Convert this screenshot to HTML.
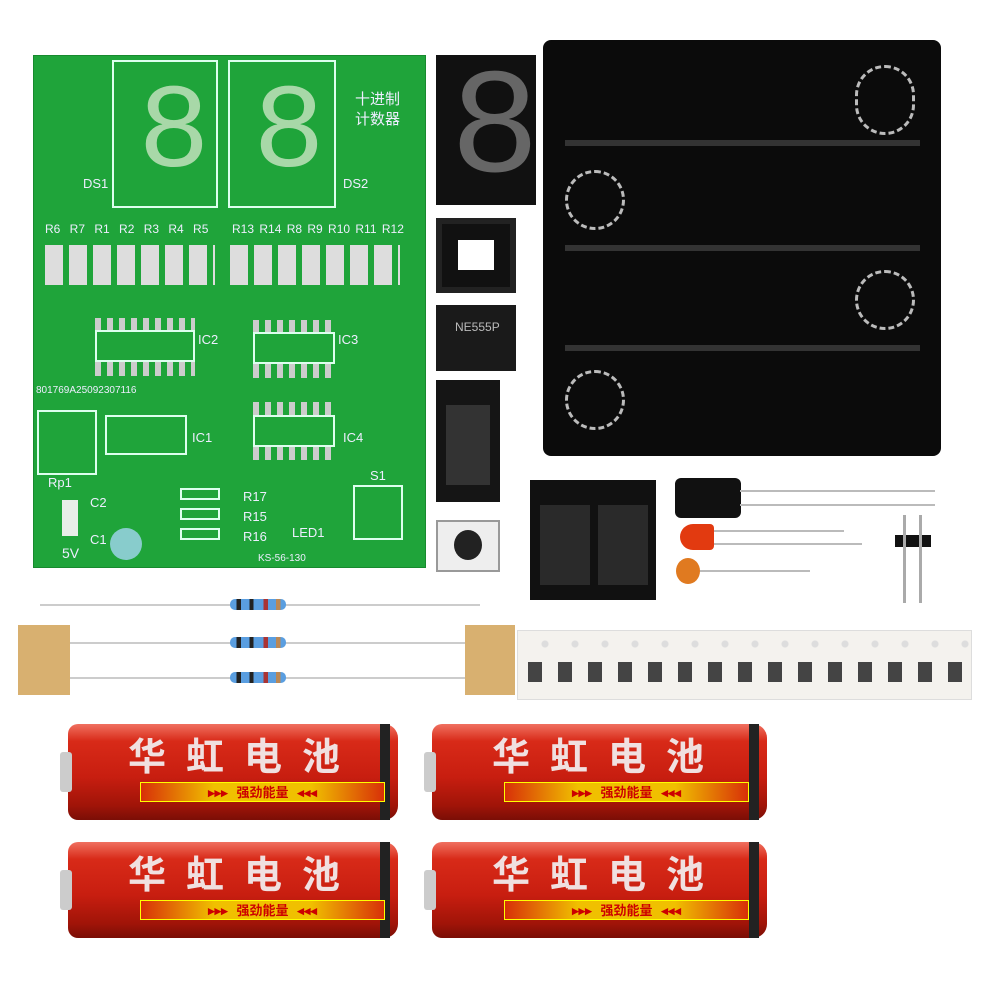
<!DOCTYPE html>
<html><head><meta charset="utf-8"><style>
body{margin:0;width:1000px;height:1000px;background:#fff;position:relative;overflow:hidden;font-family:"Liberation Sans","Noto Sans CJK SC",sans-serif}
div{position:absolute;box-sizing:border-box}
.w{color:#eef;font-size:13px}
.bat{height:96px;border-radius:10px 14px 14px 10px;background:linear-gradient(#f07060 0%,#d82a18 18%,#c81e10 55%,#a01408 85%,#7a0e06 100%)}
.bat .t{left:60px;top:8px;font-size:38px;line-height:44px;font-weight:bold;color:#f0e0e0;letter-spacing:20px;font-family:"Noto Sans CJK SC",sans-serif;white-space:nowrap}
.bat .s{left:72px;top:58px;width:245px;height:20px;background:linear-gradient(90deg,#d83008,#f0c000 30%,#f0c000 70%,#d83008);border:1px solid #ff0;color:#c00;font-size:13px;line-height:18px;font-weight:bold;text-align:center;font-family:"Noto Sans CJK SC",sans-serif}
.bat .cap{left:-8px;top:28px;width:12px;height:40px;background:#ccc;border-radius:3px}
.bat .end{right:8px;top:0;width:10px;height:96px;background:#222}
.res{width:56px;height:11px;border-radius:5px;background:linear-gradient(90deg,#5a9ee0 0,#5a9ee0 12%,#222 12%,#222 20%,#5a9ee0 20%,#5a9ee0 35%,#222 35%,#222 42%,#5a9ee0 42%,#5a9ee0 60%,#a33 60%,#a33 68%,#5a9ee0 68%,#5a9ee0 82%,#b85 82%,#b85 90%,#5a9ee0 90%)}
</style></head><body>

<!-- PCB -->
<div style="left:33px;top:55px;width:393px;height:513px;background:#1fa43a;border:1px solid #178a2e"></div>
<div style="left:112px;top:60px;width:106px;height:148px;border:2px solid #dfe"></div>
<div style="left:228px;top:60px;width:108px;height:148px;border:2px solid #dfe"></div>
<div style="left:138px;top:80px;font-size:120px;line-height:110px;color:#a8d8a8;font-family:'Liberation Mono',monospace">8</div>
<div style="left:253px;top:80px;font-size:120px;line-height:110px;color:#a8d8a8;font-family:'Liberation Mono',monospace">8</div>
<div class="w" style="left:355px;top:90px;font-size:15px;line-height:20px">十进制<br>计数器</div>
<div class="w" style="left:83px;top:176px">DS1</div>
<div class="w" style="left:343px;top:176px">DS2</div>
<div class="w" style="left:45px;top:222px;font-size:12px;word-spacing:6px">R6 R7 R1 R2 R3 R4 R5</div>
<div class="w" style="left:232px;top:222px;font-size:12px;word-spacing:2px">R13 R14 R8 R9 R10 R11 R12</div>
<div style="left:45px;top:245px;width:170px;height:40px;background:repeating-linear-gradient(90deg,#ddd 0 18px,#1fa43a 18px 24px)"></div>
<div style="left:230px;top:245px;width:170px;height:40px;background:repeating-linear-gradient(90deg,#ddd 0 18px,#1fa43a 18px 24px)"></div>
<div style="left:95px;top:318px;width:100px;height:58px;background:repeating-linear-gradient(90deg,#ccc 0 6px,#1fa43a 6px 12px)"></div>
<div style="left:95px;top:330px;width:100px;height:32px;border:2px solid #dfe;background:#1fa43a"></div>
<div class="w" style="left:198px;top:332px">IC2</div>
<div style="left:253px;top:320px;width:80px;height:58px;background:repeating-linear-gradient(90deg,#ccc 0 6px,#1fa43a 6px 12px)"></div>
<div style="left:253px;top:332px;width:82px;height:32px;border:2px solid #dfe;background:#1fa43a"></div>
<div class="w" style="left:338px;top:332px">IC3</div>
<div style="left:253px;top:402px;width:80px;height:58px;background:repeating-linear-gradient(90deg,#ccc 0 6px,#1fa43a 6px 12px)"></div>
<div style="left:253px;top:415px;width:82px;height:32px;border:2px solid #dfe;background:#1fa43a"></div>
<div class="w" style="left:343px;top:430px">IC4</div>
<div class="w" style="left:36px;top:385px;font-size:10px">801769A25092307116</div>
<div style="left:105px;top:415px;width:82px;height:40px;border:2px solid #dfe"></div>
<div class="w" style="left:192px;top:430px">IC1</div>
<div style="left:37px;top:410px;width:60px;height:65px;border:2px solid #dfe"></div>
<div class="w" style="left:48px;top:475px">Rp1</div>
<div class="w" style="left:90px;top:495px">C2</div>
<div class="w" style="left:90px;top:532px">C1</div>
<div style="left:110px;top:528px;width:32px;height:32px;border-radius:50%;background:#8cc"></div>
<div class="w" style="left:62px;top:545px;font-size:14px">5V</div>
<div style="left:62px;top:500px;width:16px;height:36px;background:#e8eee8"></div>
<div style="left:180px;top:488px;width:40px;height:12px;border:2px solid #dfe"></div>
<div style="left:180px;top:508px;width:40px;height:12px;border:2px solid #dfe"></div>
<div style="left:180px;top:528px;width:40px;height:12px;border:2px solid #dfe"></div>
<div class="w" style="left:243px;top:487px;line-height:20px">R17<br>R15<br>R16</div>
<div class="w" style="left:292px;top:525px">LED1</div>
<div class="w" style="left:370px;top:468px">S1</div>
<div style="left:353px;top:485px;width:50px;height:55px;border:2px solid #dfe"></div>
<div class="w" style="left:258px;top:553px;font-size:10px">KS-56-130</div>

<!-- 7 seg -->
<div style="left:436px;top:55px;width:100px;height:150px;background:#111;overflow:hidden"><div style="left:14px;top:12px;font-size:150px;line-height:130px;color:#666;font-family:'Liberation Mono',monospace">8</div></div>
<!-- socket -->
<div style="left:436px;top:218px;width:80px;height:75px;background:#111;border:6px solid #222"></div>
<div style="left:458px;top:240px;width:36px;height:30px;background:#fff"></div>
<!-- 555 -->
<div style="left:436px;top:305px;width:80px;height:66px;background:#1a1a1a"></div>
<div style="left:455px;top:320px;color:#bbb;font-size:12px">NE555P</div>
<!-- soic tape -->
<div style="left:436px;top:380px;width:64px;height:122px;background:#151515"></div>
<div style="left:446px;top:405px;width:44px;height:80px;background:#333"></div>
<!-- button -->
<div style="left:436px;top:520px;width:64px;height:52px;background:#eee;border:2px solid #999"></div>
<div style="left:454px;top:530px;width:28px;height:30px;border-radius:50%;background:#222"></div>

<!-- battery holder -->
<div style="left:543px;top:40px;width:398px;height:416px;background:#0b0b0b;border-radius:8px"></div>
<div style="left:565px;top:140px;width:355px;height:6px;background:#333"></div>
<div style="left:565px;top:245px;width:355px;height:6px;background:#333"></div>
<div style="left:565px;top:345px;width:355px;height:6px;background:#333"></div>
<div style="left:855px;top:65px;width:60px;height:70px;border:3px dashed #bbb;border-radius:30px"></div>
<div style="left:565px;top:170px;width:60px;height:60px;border:3px dashed #bbb;border-radius:30px"></div>
<div style="left:855px;top:270px;width:60px;height:60px;border:3px dashed #bbb;border-radius:30px"></div>
<div style="left:565px;top:370px;width:60px;height:60px;border:3px dashed #bbb;border-radius:30px"></div>

<!-- soic strip -->
<div style="left:530px;top:480px;width:126px;height:120px;background:#111"></div>
<div style="left:540px;top:505px;width:50px;height:80px;background:#2a2a2a"></div>
<div style="left:598px;top:505px;width:50px;height:80px;background:#2a2a2a"></div>
<!-- cap -->
<div style="left:675px;top:478px;width:66px;height:40px;background:#111;border-radius:6px"></div>
<div style="left:740px;top:490px;width:195px;height:2px;background:#bbb"></div>
<div style="left:740px;top:504px;width:195px;height:2px;background:#bbb"></div>
<div style="left:680px;top:524px;width:34px;height:26px;background:#e23a10;border-radius:13px 4px 4px 13px"></div>
<div style="left:714px;top:530px;width:130px;height:2px;background:#bbb"></div>
<div style="left:714px;top:543px;width:148px;height:2px;background:#bbb"></div>
<div style="left:676px;top:558px;width:24px;height:26px;background:#e07a20;border-radius:50%"></div>
<div style="left:700px;top:570px;width:110px;height:2px;background:#bbb"></div>
<!-- header -->
<div style="left:895px;top:535px;width:36px;height:12px;background:#111"></div>
<div style="left:903px;top:515px;width:3px;height:88px;background:#aaa"></div>
<div style="left:919px;top:515px;width:3px;height:88px;background:#aaa"></div>

<!-- resistors -->
<div style="left:40px;top:604px;width:440px;height:2px;background:#ccc"></div>
<div style="left:40px;top:642px;width:440px;height:2px;background:#ccc"></div>
<div style="left:40px;top:677px;width:440px;height:2px;background:#ccc"></div>
<div class="res" style="left:230px;top:599px"></div>
<div class="res" style="left:230px;top:637px"></div>
<div class="res" style="left:230px;top:672px"></div>
<div style="left:18px;top:625px;width:52px;height:70px;background:#d8b070"></div>
<div style="left:465px;top:625px;width:50px;height:70px;background:#d8b070"></div>
<!-- smd tape -->
<div style="left:517px;top:630px;width:455px;height:70px;background:#f4f2ee;border:1px solid #ddd"></div>
<div style="left:530px;top:640px;width:440px;height:8px;background:radial-gradient(circle,#ddd 3px,transparent 4px) 0 0/30px 8px"></div>
<div style="left:528px;top:662px;width:440px;height:20px;background:repeating-linear-gradient(90deg,#444 0 14px,transparent 14px 30px)"></div>

<!-- batteries -->
<div class="bat" style="left:68px;top:724px;width:330px"><div class="cap"></div><div class="end"></div><div class="t">华虹电池</div><div class="s">▸▸▸ &nbsp; 强劲能量 &nbsp; ◂◂◂</div></div>
<div class="bat" style="left:432px;top:724px;width:335px"><div class="cap"></div><div class="end"></div><div class="t">华虹电池</div><div class="s">▸▸▸ &nbsp; 强劲能量 &nbsp; ◂◂◂</div></div>
<div class="bat" style="left:68px;top:842px;width:330px"><div class="cap"></div><div class="end"></div><div class="t">华虹电池</div><div class="s">▸▸▸ &nbsp; 强劲能量 &nbsp; ◂◂◂</div></div>
<div class="bat" style="left:432px;top:842px;width:335px"><div class="cap"></div><div class="end"></div><div class="t">华虹电池</div><div class="s">▸▸▸ &nbsp; 强劲能量 &nbsp; ◂◂◂</div></div>
</body></html>
